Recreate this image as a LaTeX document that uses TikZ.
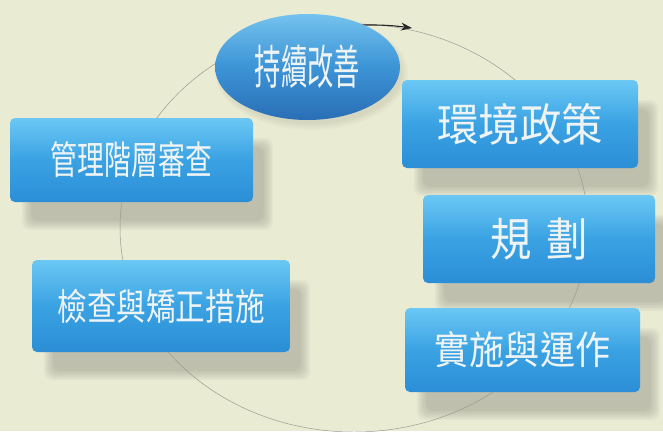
\documentclass[tikz,border=0pt]{standalone}
\usepackage{fontspec}
\usepackage{graphicx}
\newfontfamily\cjk{Noto Sans CJK TC}
\usetikzlibrary{arrows.meta,shapes.geometric}
\pgfdeclarelayer{paper}
\pgfdeclarelayer{shade}
\pgfsetlayers{paper,shade,main}
\definecolor{bg}{HTML}{EAEBD3}
\definecolor{boxtop}{HTML}{6BC8F4}
\definecolor{boxmid}{HTML}{3AA2E3}
\definecolor{boxbot}{HTML}{2B8ED6}
\definecolor{elltop}{HTML}{74C2EE}
\definecolor{ellmid}{HTML}{3C94D6}
\definecolor{ellbot}{HTML}{2A6EB6}
\definecolor{boxtext}{HTML}{EEF3F4}
\definecolor{cyc}{HTML}{9A9A90}
\definecolor{shadowcol}{HTML}{6E6E66}
\begin{document}
\begin{tikzpicture}[x=1pt,y=-1pt,
  stepbox/.style={rectangle, rounded corners=5pt, inner sep=0pt,
    top color=boxtop, bottom color=boxbot, middle color=boxmid,
    text=boxtext, font=\cjk},
  ellbox/.style={ellipse, inner sep=0pt, top color=elltop, bottom color=ellbot,
    middle color=ellmid, text=boxtext, font=\cjk},
  shadowlayer/.style={fill=shadowcol, opacity=0.055, rounded corners=8pt},
  cycline/.style={draw=cyc, line width=0.5pt},
  cycarrow/.style={draw=black!85, line width=1.1pt, -{Stealth[length=11pt,width=8pt]}}
]
\begin{pgfonlayer}{paper}
\fill[bg] (0,0) rectangle (663,431);
\end{pgfonlayer}
\useasboundingbox (0,0) rectangle (663,431);

\coordinate (cc) at (354,228);
\draw[cycline] (cc) ellipse[x radius=234pt, y radius=204pt];
\coordinate (arrstart) at (362,25);
\coordinate (tip) at (412,28);
\draw[cycarrow] (arrstart) to[bend left=4] (tip);

\node[ellbox, minimum width=185pt, minimum height=106pt] (kaizen) at (307.5,67)
  {\raisebox{-3pt}{\scalebox{0.56}[1]{\fontsize{47}{47}\selectfont 持續改善}}};

\node[stepbox, minimum width=243pt, minimum height=84pt] (review) at (131.5,160)
  {\scalebox{0.69}[1]{\fontsize{39}{39}\selectfont 管理階層審查}};
\node[stepbox, minimum width=258pt, minimum height=92pt] (check) at (161,306)
  {\scalebox{0.8}[1]{\fontsize{37}{37}\selectfont 檢查與矯正措施}};
\node[stepbox, minimum width=236pt, minimum height=88pt] (policy) at (520,124)
  {\scalebox{0.92}[1]{\fontsize{45}{45}\selectfont 環境政策}};
\node[stepbox, minimum width=232pt, minimum height=88pt] (plan) at (539,239)
  {\scalebox{0.9}[1]{\fontsize{46}{46}\selectfont 規\hspace{16pt}劃}};
\node[stepbox, minimum width=235pt, minimum height=84pt] (do) at (522.5,350)
  {\scalebox{0.9}[1]{\fontsize{39}{39}\selectfont 實施與運作}};

\begin{pgfonlayer}{shade}
\foreach \n in {review,check,policy,plan,do}{
  \foreach \k in {0,...,6}{
    \fill[shadowlayer]
      ([shift={(16+\k*1.6-4,24+\k*1.6-4)}]\n.north west)
      rectangle ([shift={(16-\k*1.6+4,24-\k*1.6+4)}]\n.south east);
  }
}
\foreach \k in {0,...,4}{
  \fill[fill=shadowcol, opacity=0.03]
    ([shift={(4,6)}]kaizen.center) ellipse[x radius={92.5pt+4pt-\k*1.5pt}, y radius={53pt+4pt-\k*1.5pt}];
}
\end{pgfonlayer}
\end{tikzpicture}
\end{document}
